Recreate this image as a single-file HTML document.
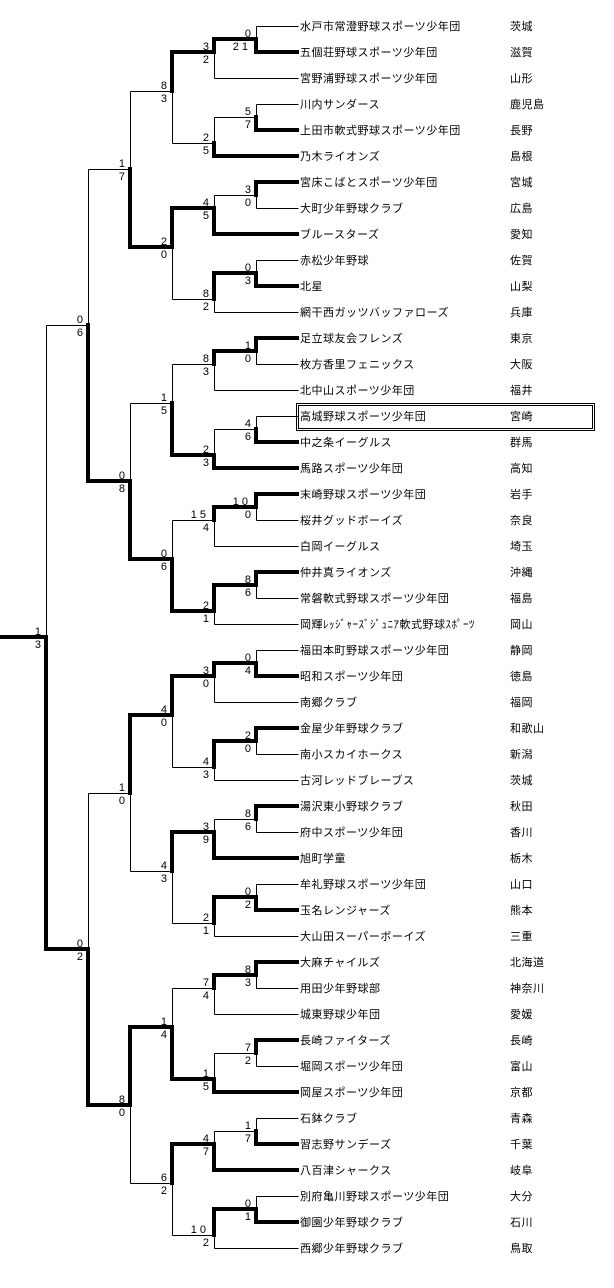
<!DOCTYPE html>
<html><head><meta charset="utf-8"><style>
html,body{margin:0;padding:0;background:#fff;}
svg{display:block;}
.n text{font-family:"Liberation Sans",sans-serif;font-size:11px;text-anchor:end;}
.tm text{font-family:"Liberation Sans","Noto Sans CJK JP",sans-serif;font-size:11px;letter-spacing:0.5px;}
</style></head><body>
<svg width="614" height="1288" viewBox="0 0 614 1288" xmlns="http://www.w3.org/2000/svg">
<g fill="none" stroke="#000" stroke-width="1" shape-rendering="crispEdges" transform="translate(0.5,0.5)">
<path d="M256 26H298M256 26V39M214 78H298M214 52V78
M256 104H298M256 104V117M214 117H256M214 117V143M172 143H214
M256 208H298M256 195V208M214 195H256M214 195V208
M256 260H298M256 260V273M214 312H298M214 299V312M172 299H214
M130 91H172M172 91V143M172 247V299M130 91V169M88 169H130
M256 364H298M256 351V364M214 390H298M214 364V390M172 364H214
M256 416H298M256 416V429M214 429H256M214 429V455
M172 364V403M130 403H172
M256 520H298M256 507V520M214 546H298M214 520V546M172 520H214
M256 598H298M256 585V598M214 624H298M214 611V624
M172 520V559M130 403V481M88 169V325M46 325H88
M256 650H298M256 650V663M214 702H298M214 676V702
M256 754H298M256 741V754M214 780H298M214 767V780M172 767H214
M172 715V767
M256 832H298M256 819V832M214 819H256M214 819V832
M256 884H298M256 884V897M214 936H298M214 923V936M172 923H214
M172 871V923M130 871H172M130 793V871M88 793H130
M256 988H298M256 975V988M214 1014H298M214 988V1014M172 988H214
M256 1066H298M256 1053V1066M214 1053H256M214 1053V1079
M172 988V1027
M256 1118H298M256 1118V1131M214 1131H256M214 1131V1144
M256 1196H298M256 1196V1209M214 1248H298M214 1235V1248M172 1235H214
M172 1183V1235M130 1183H172M130 1105V1183M88 793V949M46 325V637"/>
</g>
<g fill="none" stroke="#000" stroke-width="4" stroke-linecap="square" shape-rendering="crispEdges">
<path d="M256 52H297M256 39V52M214 39H256M214 39V52M172 52H214
M256 130H297M256 117V130M214 156H297M214 143V156
M256 182H297M256 182V195M214 234H297M214 208V234M172 208H214
M256 286H297M256 273V286M214 273H256M214 273V299
M172 52V91M172 208V247M130 247H172M130 169V247
M256 338H297M256 338V351M214 351H256M214 351V364
M256 442H297M256 429V442M214 468H297M214 455V468M172 455H214
M172 403V455
M256 494H297M256 494V507M214 507H256M214 507V520
M256 572H297M256 572V585M214 585H256M214 585V611M172 611H214
M172 559V611M130 559H172M130 481V559M88 481H130M88 325V481
M256 676H297M256 663V676M214 663H256M214 663V676M172 676H214
M256 728H297M256 728V741M214 741H256M214 741V767
M172 676V715M130 715H172
M256 806H297M256 806V819M214 858H297M214 832V858M172 832H214
M256 910H297M256 897V910M214 897H256M214 897V923
M172 832V871M130 715V793
M256 962H297M256 962V975M214 975H256M214 975V988
M256 1040H297M256 1040V1053M214 1092H297M214 1079V1092M172 1079H214
M172 1027V1079M130 1027H172
M256 1144H297M256 1131V1144M214 1170H297M214 1144V1170M172 1144H214
M256 1222H297M256 1209V1222M214 1209H256M214 1209V1235
M172 1144V1183M130 1027V1105M88 1105H130M88 949V1105M46 949H88
M46 637V949M1 637H46"/>
</g>
<rect x="296.5" y="403.5" width="298" height="27" fill="none" stroke="#000" stroke-width="1"/>
<rect x="298.5" y="405.5" width="294" height="23" fill="none" stroke="#000" stroke-width="1"/>
<g class="n">
<text x="251" y="37">0</text><text x="251" y="50" letter-spacing="3">21</text>
<text x="251" y="115">5</text><text x="251" y="128">7</text>
<text x="251" y="193">3</text><text x="251" y="206">0</text>
<text x="251" y="271">0</text><text x="251" y="284">3</text>
<text x="251" y="349">1</text><text x="251" y="362">0</text>
<text x="251" y="427">4</text><text x="251" y="440">6</text>
<text x="251" y="505" letter-spacing="3">10</text><text x="251" y="518">0</text>
<text x="251" y="583">8</text><text x="251" y="596">6</text>
<text x="251" y="661">0</text><text x="251" y="674">4</text>
<text x="251" y="739">2</text><text x="251" y="752">0</text>
<text x="251" y="817">8</text><text x="251" y="830">6</text>
<text x="251" y="895">0</text><text x="251" y="908">2</text>
<text x="251" y="973">8</text><text x="251" y="986">3</text>
<text x="251" y="1051">7</text><text x="251" y="1064">2</text>
<text x="251" y="1129">1</text><text x="251" y="1142">7</text>
<text x="251" y="1207">0</text><text x="251" y="1220">1</text>

<text x="209" y="50">3</text><text x="209" y="63">2</text>
<text x="209" y="141">2</text><text x="209" y="154">5</text>
<text x="209" y="206">4</text><text x="209" y="219">5</text>
<text x="209" y="297">8</text><text x="209" y="310">2</text>
<text x="209" y="362">8</text><text x="209" y="375">3</text>
<text x="209" y="453">2</text><text x="209" y="466">3</text>
<text x="209" y="518" letter-spacing="3">15</text><text x="209" y="531">4</text>
<text x="209" y="609">2</text><text x="209" y="622">1</text>
<text x="209" y="674">3</text><text x="209" y="687">0</text>
<text x="209" y="765">4</text><text x="209" y="778">3</text>
<text x="209" y="830">3</text><text x="209" y="843">9</text>
<text x="209" y="921">2</text><text x="209" y="934">1</text>
<text x="209" y="986">7</text><text x="209" y="999">4</text>
<text x="209" y="1077">1</text><text x="209" y="1090">5</text>
<text x="209" y="1142">4</text><text x="209" y="1155">7</text>
<text x="209" y="1233" letter-spacing="3">10</text><text x="209" y="1246">2</text>

<text x="167" y="89">8</text><text x="167" y="102">3</text>
<text x="167" y="245">2</text><text x="167" y="258">0</text>
<text x="167" y="401">1</text><text x="167" y="414">5</text>
<text x="167" y="557">0</text><text x="167" y="570">6</text>
<text x="167" y="713">4</text><text x="167" y="726">0</text>
<text x="167" y="869">4</text><text x="167" y="882">3</text>
<text x="167" y="1025">1</text><text x="167" y="1038">4</text>
<text x="167" y="1181">6</text><text x="167" y="1194">2</text>

<text x="125" y="167">1</text><text x="125" y="180">7</text>
<text x="125" y="479">0</text><text x="125" y="492">8</text>
<text x="125" y="791">1</text><text x="125" y="804">0</text>
<text x="125" y="1103">8</text><text x="125" y="1116">0</text>

<text x="83" y="323">0</text><text x="83" y="336">6</text>
<text x="83" y="947">0</text><text x="83" y="960">2</text>

<text x="41" y="635">1</text><text x="41" y="648">3</text>
</g>
<g class="tm">
<text x="300" y="30">水戸市常澄野球スポーツ少年団</text><text x="510" y="30">茨城</text>
<text x="300" y="56">五個荘野球スポーツ少年団</text><text x="510" y="56">滋賀</text>
<text x="300" y="82">宮野浦野球スポーツ少年団</text><text x="510" y="82">山形</text>
<text x="300" y="108">川内サンダース</text><text x="510" y="108">鹿児島</text>
<text x="300" y="134">上田市軟式野球スポーツ少年団</text><text x="510" y="134">長野</text>
<text x="300" y="160">乃木ライオンズ</text><text x="510" y="160">島根</text>
<text x="300" y="186">宮床こばとスポーツ少年団</text><text x="510" y="186">宮城</text>
<text x="300" y="212">大町少年野球クラブ</text><text x="510" y="212">広島</text>
<text x="300" y="238">ブルースターズ</text><text x="510" y="238">愛知</text>
<text x="300" y="264">赤松少年野球</text><text x="510" y="264">佐賀</text>
<text x="300" y="290">北星</text><text x="510" y="290">山梨</text>
<text x="300" y="316">網干西ガッツバッファローズ</text><text x="510" y="316">兵庫</text>
<text x="300" y="342">足立球友会フレンズ</text><text x="510" y="342">東京</text>
<text x="300" y="368">枚方香里フェニックス</text><text x="510" y="368">大阪</text>
<text x="300" y="394">北中山スポーツ少年団</text><text x="510" y="394">福井</text>
<text x="300" y="420">高城野球スポーツ少年団</text><text x="510" y="420">宮崎</text>
<text x="300" y="446">中之条イーグルス</text><text x="510" y="446">群馬</text>
<text x="300" y="472">馬路スポーツ少年団</text><text x="510" y="472">高知</text>
<text x="300" y="498">末崎野球スポーツ少年団</text><text x="510" y="498">岩手</text>
<text x="300" y="524">桜井グッドボーイズ</text><text x="510" y="524">奈良</text>
<text x="300" y="550">白岡イーグルス</text><text x="510" y="550">埼玉</text>
<text x="300" y="576">仲井真ライオンズ</text><text x="510" y="576">沖縄</text>
<text x="300" y="602">常磐軟式野球スポーツ少年団</text><text x="510" y="602">福島</text>
<text x="300" y="628">岡輝ﾚｯｼﾞｬｰｽﾞｼﾞｭﾆｱ軟式野球ｽﾎﾟｰﾂ</text><text x="510" y="628">岡山</text>
<text x="300" y="654">福田本町野球スポーツ少年団</text><text x="510" y="654">静岡</text>
<text x="300" y="680">昭和スポーツ少年団</text><text x="510" y="680">徳島</text>
<text x="300" y="706">南郷クラブ</text><text x="510" y="706">福岡</text>
<text x="300" y="732">金屋少年野球クラブ</text><text x="510" y="732">和歌山</text>
<text x="300" y="758">南小スカイホークス</text><text x="510" y="758">新潟</text>
<text x="300" y="784">古河レッドブレーブス</text><text x="510" y="784">茨城</text>
<text x="300" y="810">湯沢東小野球クラブ</text><text x="510" y="810">秋田</text>
<text x="300" y="836">府中スポーツ少年団</text><text x="510" y="836">香川</text>
<text x="300" y="862">旭町学童</text><text x="510" y="862">栃木</text>
<text x="300" y="888">牟礼野球スポーツ少年団</text><text x="510" y="888">山口</text>
<text x="300" y="914">玉名レンジャーズ</text><text x="510" y="914">熊本</text>
<text x="300" y="940">大山田スーパーボーイズ</text><text x="510" y="940">三重</text>
<text x="300" y="966">大麻チャイルズ</text><text x="510" y="966">北海道</text>
<text x="300" y="992">用田少年野球部</text><text x="510" y="992">神奈川</text>
<text x="300" y="1018">城東野球少年団</text><text x="510" y="1018">愛媛</text>
<text x="300" y="1044">長崎ファイターズ</text><text x="510" y="1044">長崎</text>
<text x="300" y="1070">堀岡スポーツ少年団</text><text x="510" y="1070">富山</text>
<text x="300" y="1096">岡屋スポーツ少年団</text><text x="510" y="1096">京都</text>
<text x="300" y="1122">石鉢クラブ</text><text x="510" y="1122">青森</text>
<text x="300" y="1148">習志野サンデーズ</text><text x="510" y="1148">千葉</text>
<text x="300" y="1174">八百津シャークス</text><text x="510" y="1174">岐阜</text>
<text x="300" y="1200">別府亀川野球スポーツ少年団</text><text x="510" y="1200">大分</text>
<text x="300" y="1226">御園少年野球クラブ</text><text x="510" y="1226">石川</text>
<text x="300" y="1252">西郷少年野球クラブ</text><text x="510" y="1252">鳥取</text>
</g>
</svg>
</body></html>
